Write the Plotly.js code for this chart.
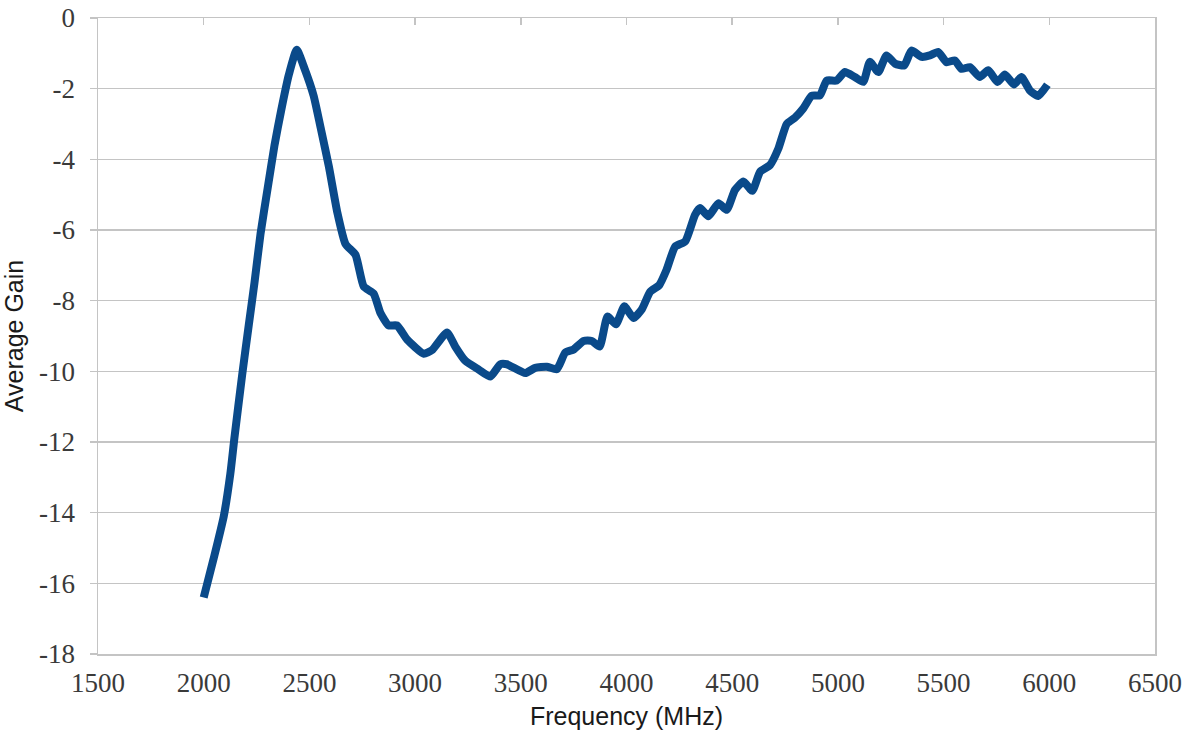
<!DOCTYPE html>
<html>
<head>
<meta charset="utf-8">
<script src="https://cdn.plot.ly/plotly-3.0.1.min.js"></script>
<style>
  html, body { margin: 0; padding: 0; background: #fff; }
  #chart { width: 1192px; height: 742px; }
</style>
</head>
<body>
<div id="chart"></div>
<script>
// Frequency (MHz)
const frequency = [
  2000, 2047, 2095, 2126, 2145, 2182, 2213, 2240, 2269, 2303,
  2335, 2367, 2403, 2440, 2475, 2520, 2553, 2592, 2632, 2671,
  2718, 2757, 2804, 2836, 2875, 2914, 2962, 3041, 3080, 3151,
  3190, 3237, 3301, 3356, 3403, 3434, 3521, 3568, 3623, 3671,
  3710, 3750, 3797, 3836, 3873, 3910, 3950, 3990, 4033, 4072,
  4112, 4155, 4190, 4230, 4278, 4324, 4348, 4387, 4435, 4474,
  4513, 4553, 4595, 4632, 4679, 4718, 4758, 4797, 4836, 4876,
  4915, 4947, 4994, 5033, 5080, 5120, 5151, 5191, 5230, 5270,
  5314, 5348, 5396, 5435, 5474, 5514, 5553, 5585, 5624, 5671,
  5711, 5755, 5790, 5833, 5868, 5908, 5947, 5991
];
// Average Gain
const averageGain = [
  -16.4, -15.3, -14.1, -12.9, -11.9, -10.1, -8.7, -7.5, -6.1, -4.8,
  -3.6, -2.6, -1.6, -0.9, -1.4, -2.2, -3.1, -4.2, -5.5, -6.4,
  -6.7, -7.6, -7.8, -8.35, -8.7, -8.7, -9.1, -9.5, -9.4, -8.9,
  -9.3, -9.7, -9.95, -10.15, -9.8, -9.8, -10.05, -9.9, -9.87, -9.94,
  -9.47, -9.38, -9.14, -9.14, -9.3, -8.45, -8.67, -8.16, -8.49, -8.25,
  -7.75, -7.56, -7.12, -6.47, -6.32, -5.57, -5.38, -5.61, -5.24, -5.43,
  -4.87, -4.63, -4.89, -4.35, -4.16, -3.7, -3.0, -2.82, -2.56, -2.2,
  -2.19, -1.77, -1.77, -1.53, -1.67, -1.81, -1.24, -1.53, -1.06, -1.29,
  -1.34, -0.92, -1.10, -1.06, -0.96, -1.25, -1.20, -1.44, -1.39, -1.67,
  -1.48, -1.81, -1.60, -1.88, -1.67, -2.05, -2.21, -1.89
];
const xTickVals = [1500, 2000, 2500, 3000, 3500, 4000, 4500, 5000, 5500, 6000, 6500];
const xTickText = ['1500', '2000', '2500', '3000', '3500', '4000', '4500', '5000', '5500', '6000', '6500'];
const yTickVals = [0, -2, -4, -6, -8, -10, -12, -14, -16, -18];
const yTickText = ['0', '-2', '-4', '-6', '-8', '-10', '-12', '-14', '-16', '-18'];
const xRange = [1500, 6500];
const yRange = [-18, 0];
const xTitle = 'Frequency (MHz)';
const yTitle = 'Average Gain';

const tickFont = { family: 'Liberation Serif, Times New Roman, serif', size: 27, color: '#3a3a3a' };
const titleFont = { family: 'Liberation Sans, Arial, sans-serif', size: 25, color: '#1a1a1a' };
const axisGray = '#c4c4c4';

const data = [{
  x: frequency,
  y: averageGain,
  type: 'scatter',
  mode: 'lines',
  line: { color: '#0a4a8a', width: 8, shape: 'spline', smoothing: 0.5 },
  hoverinfo: 'x+y'
}, {
  x: [], y: [], xaxis: 'x2', type: 'scatter', mode: 'lines', showlegend: false, hoverinfo: 'skip'
}];

const layout = {
  width: 1192,
  height: 742,
  margin: { l: 98, r: 37, t: 18, b: 88, pad: 0 },
  paper_bgcolor: '#ffffff',
  plot_bgcolor: '#ffffff',
  showlegend: false,
  xaxis: {
    range: xRange,
    tickmode: 'array',
    tickvals: xTickVals,
    ticktext: xTickText,
    showgrid: false,
    zeroline: false,
    showline: true,
    mirror: true,
    linecolor: axisGray,
    linewidth: 1.5,
    ticks: '',
    ticklabelstandoff: 4,
    tickfont: tickFont,
    title: { text: xTitle, font: titleFont, standoff: 10 }
  },
  xaxis2: {
    range: xRange,
    tickmode: 'array',
    tickvals: xTickVals,
    overlaying: 'x',
    side: 'top',
    anchor: 'y',
    showgrid: false,
    zeroline: false,
    showline: false,
    ticks: 'inside',
    ticklen: 7,
    tickwidth: 1.5,
    tickcolor: axisGray,
    showticklabels: false
  },
  yaxis: {
    range: yRange,
    tickmode: 'array',
    tickvals: yTickVals,
    ticktext: yTickText,
    showgrid: true,
    gridcolor: axisGray,
    gridwidth: 1.3,
    zeroline: false,
    showline: true,
    mirror: true,
    linecolor: axisGray,
    linewidth: 1.5,
    ticks: 'outside',
    ticklen: 7,
    tickwidth: 1.5,
    tickcolor: axisGray,
    ticklabelstandoff: 9,
    tickfont: tickFont,
    title: { text: yTitle, font: titleFont, standoff: 12 }
  }
};

Plotly.newPlot('chart', data, layout, { displayModeBar: false, staticPlot: true });
</script>
</body>
</html>
